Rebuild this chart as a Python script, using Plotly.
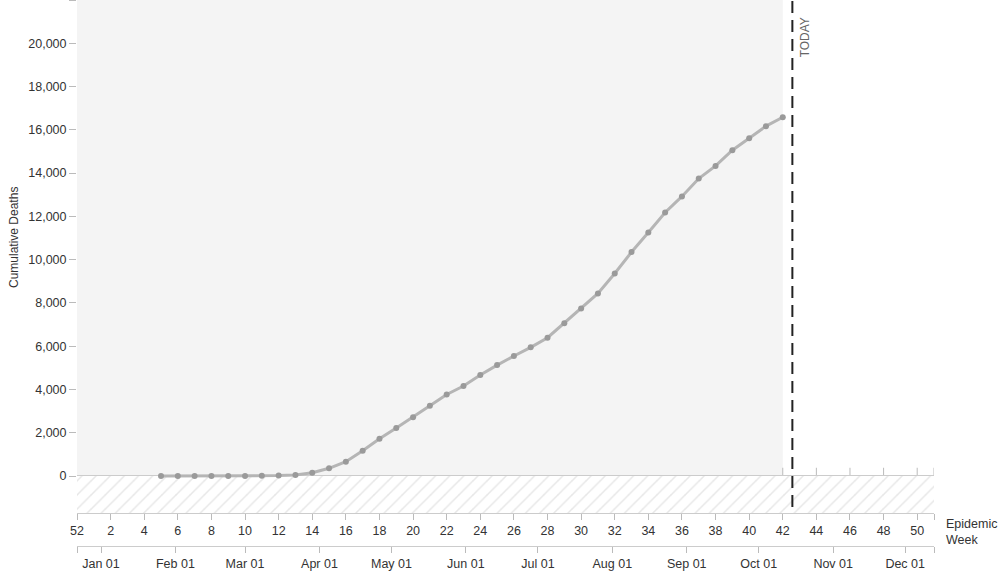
import datetime as dt
import plotly.graph_objects as go

# ---------------- data ----------------
epi_weeks = list(range(5, 43))
cum_deaths = [0, 0, 0, 0, 2, 5, 10, 20, 50, 150, 355, 660, 1170, 1720, 2220, 2720,
              3250, 3770, 4160, 4665, 5125, 5545, 5945, 6390, 7065, 7745, 8440,
              9360, 10350, 11255, 12180, 12920, 13750, 14330, 15060, 15610,
              16170, 16580]

week_tick_vals = [0] + list(range(2, 51, 2)) + [51]
week_tick_text = ["52"] + [str(w) for w in range(2, 51, 2)] + [""]

month_dates = ["2020-01-01", "2020-02-01", "2020-03-01", "2020-04-01", "2020-05-01",
               "2020-06-01", "2020-07-01", "2020-08-01", "2020-09-01", "2020-10-01",
               "2020-11-01", "2020-12-01"]
month_labels = ["Jan 01", "Feb 01", "Mar 01", "Apr 01", "May 01", "Jun 01",
                "Jul 01", "Aug 01", "Sep 01", "Oct 01", "Nov 01", "Dec 01"]

y_tick_vals = list(range(0, 20001, 2000)) + [22000]
y_tick_text = [f"{v:,}" for v in range(0, 20001, 2000)] + [""]

BASE_DATE = dt.date(2019, 12, 22)   # start of epi week 52 (2019)
TODAY = dt.date(2020, 10, 15)
LAST_DATA_WEEK = 42
X_MAX = 51
Y_MIN, Y_MAX = -1710, 22000


def date_to_x(d):
    if isinstance(d, str):
        d = dt.date.fromisoformat(d)
    return (d - BASE_DATE).days / 7.0


month_x = [0] + [date_to_x(d) for d in month_dates] + [X_MAX]
month_text = [""] + month_labels + [""]
today_x = date_to_x(TODAY)

FONT = "Liberation Sans, Arial, Helvetica, sans-serif"
TICK_FONT = dict(size=12.5, color="#333333")

fig = go.Figure()

# hatched negative area
fig.add_trace(go.Scatter(
    x=[0, X_MAX, X_MAX, 0, 0], y=[Y_MIN, Y_MIN, 0, 0, Y_MIN],
    fill="toself", mode="none", fillcolor="white",
    fillpattern=dict(shape="/", fgcolor="#cfcfcf", bgcolor="white", size=10, solidity=0.15),
    hoverinfo="skip", showlegend=False))

# data
fig.add_trace(go.Scatter(
    x=epi_weeks, y=cum_deaths, mode="lines+markers",
    line=dict(color="#b5b5b5", width=3),
    marker=dict(color="#9a9a9a", size=6),
    showlegend=False, name="Cumulative Deaths"))

# invisible trace on xaxis2 so it renders
fig.add_trace(go.Scatter(x=[0, X_MAX], y=[0, 0], xaxis="x2", mode="none",
                         hoverinfo="skip", showlegend=False))

shapes = [
    dict(type="rect", xref="x", yref="y", x0=0, x1=LAST_DATA_WEEK, y0=0, y1=Y_MAX,
         fillcolor="#f4f4f4", line=dict(width=0), layer="below"),
    dict(type="line", xref="x", yref="y", x0=today_x, x1=today_x, y0=-1430, y1=Y_MAX,
         line=dict(color="#222222", width=2, dash="12px,7px"), layer="above"),
]
for w in week_tick_vals:
    if w >= LAST_DATA_WEEK:
        shapes.append(dict(type="line", xref="x", yref="y", x0=w, x1=w, y0=0, y1=380,
                           line=dict(color="#bbbbbb", width=1), layer="below"))

fig.update_layout(
    width=1000, height=571,
    margin=dict(l=77, r=66, t=0, b=25, autoexpand=False),
    paper_bgcolor="white", plot_bgcolor="white",
    font=dict(family=FONT, size=13, color="#333333"),
    shapes=shapes,
    xaxis=dict(range=[0, X_MAX], domain=[0, 1], anchor="y",
               tickmode="array", tickvals=week_tick_vals, ticktext=week_tick_text,
               ticks="outside", ticklen=6, tickcolor="#bbbbbb", tickwidth=1,
               showline=True, linecolor="#cccccc", linewidth=1,
               showgrid=False, zeroline=False, tickfont=TICK_FONT),
    xaxis2=dict(range=[0, X_MAX], overlaying="x", anchor="free", position=0, side="bottom",
                tickmode="array", tickvals=month_x, ticktext=month_text,
                ticks="outside", ticklen=6, tickcolor="#bbbbbb", tickwidth=1,
                showline=True, linecolor="#cccccc", linewidth=1,
                showgrid=False, zeroline=False, tickfont=TICK_FONT),
    yaxis=dict(range=[Y_MIN, Y_MAX], domain=[33 / 546, 1],
               tickmode="array", tickvals=y_tick_vals, ticktext=y_tick_text,
               ticks="outside", ticklen=7, tickcolor="#bbbbbb", tickwidth=1,
               showline=False, showgrid=False,
               zeroline=True, zerolinecolor="#cccccc", zerolinewidth=2,
               tickfont=TICK_FONT),
    annotations=[
        dict(text="TODAY", xref="x", yref="paper", x=today_x, xshift=13,
             y=1 - 37 / 546, textangle=-90, showarrow=False,
             font=dict(size=12, color="#666666"), xanchor="center", yanchor="middle"),
        dict(text="Epidemic<br>Week", xref="paper", yref="paper",
             x=1 + 10 / 857, y=(546 - 532) / 546, showarrow=False, align="left",
             xanchor="left", yanchor="middle", font=dict(size=12.5, color="#333333")),
        dict(text="Cumulative Deaths", xref="paper", yref="paper",
             x=(14 - 77) / 857, y=(546 - 238) / 546, textangle=-90, showarrow=False,
             xanchor="center", yanchor="middle", font=dict(size=12, color="#333333")),
    ],
)

fig.write_html("out.html", config={"displayModeBar": False},
               post_script="document.body.style.margin='0px';document.body.style.padding='0px';")
